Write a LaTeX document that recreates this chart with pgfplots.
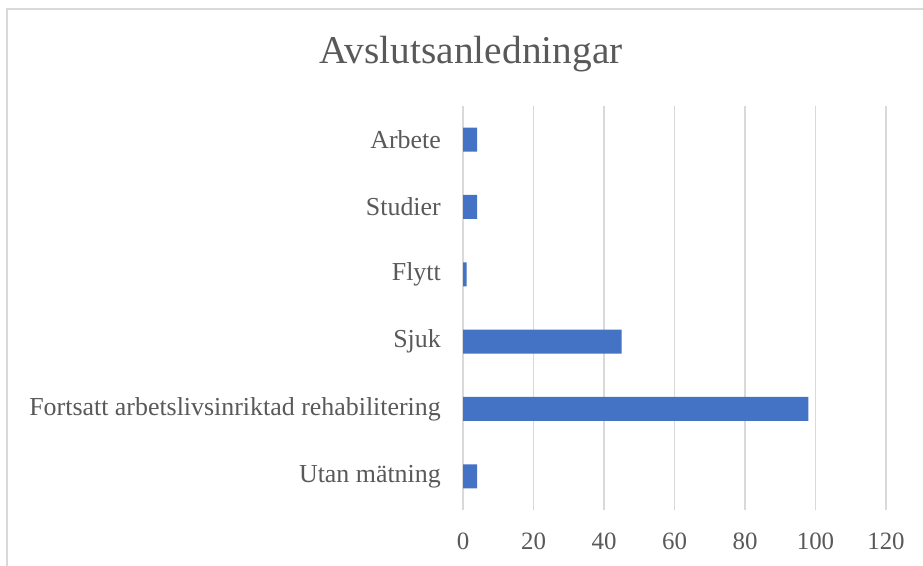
\documentclass[border=0pt]{standalone}
\usepackage{fontspec}
\setmainfont{Liberation Serif}
\usepackage{pgfplots}
\pgfplotsset{compat=1.18}
\definecolor{barblue}{HTML}{4472C4}
\definecolor{gridgray}{HTML}{D9D9D9}
\definecolor{textgray}{HTML}{595959}
\begin{document}
\begin{tikzpicture}[x=1bp,y=1bp]
\useasboundingbox (0,0) rectangle (923,566);
\draw[color=gridgray, line width=1.5bp] (7,0) -- (7,557) -- (923,557);
\node[text=textgray, font=\fontsize{39.5}{46}\selectfont, anchor=base] at (471,502) {Avslutsanledningar};
\begin{axis}[
  at={(463bp,56bp)}, anchor=south west, scale only axis,
  width=423bp, height=404bp,
  xbar, bar width=24bp,
  xmin=0, xmax=120, xtick={0,20,...,120},
  ymin=-0.5, ymax=5.5, ytick={0,...,5},
  yticklabels={Utan mätning, Fortsatt arbetslivsinriktad rehabilitering, Sjuk, Flytt, Studier, Arbete},
  xmajorgrids, major grid style={gridgray, line width=1.6bp},
  axis line style={draw=none}, major tick length=0pt,
  tick label style={text=textgray},
  yticklabel style={font=\fontsize{26}{30}\selectfont},
  xticklabel style={font=\fontsize{25}{30}\selectfont},
  /pgf/number format/assume math mode=true,
  yticklabel style={inner sep=0pt, anchor=east, xshift=-22bp},
  xticklabel style={inner sep=0pt, anchor=north, yshift=-23bp},
]
\addplot[fill=barblue, draw=none] coordinates {(4,0) (98,1) (45,2) (1,3) (4,4) (4,5)};
\end{axis}
\end{tikzpicture}
\end{document}
